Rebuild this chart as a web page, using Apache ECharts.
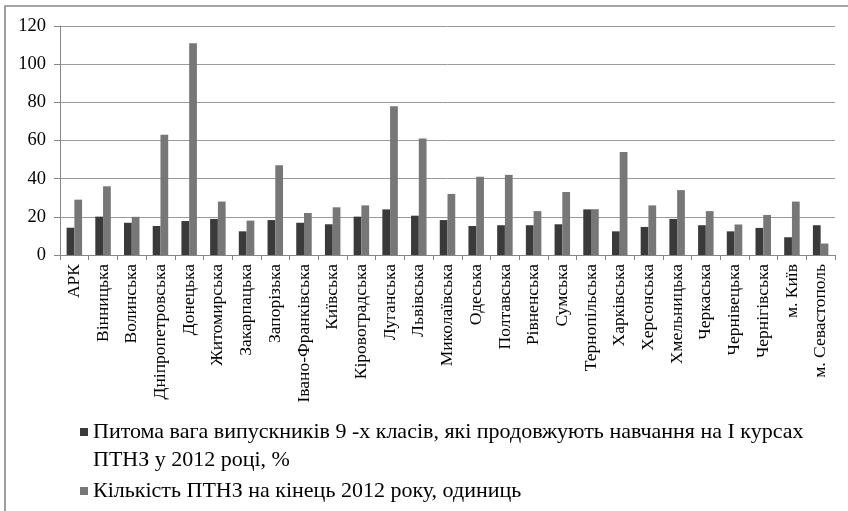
<!DOCTYPE html>
<html>
<head>
<meta charset="utf-8">
<script src="https://cdn.jsdelivr.net/npm/echarts@6/dist/echarts.min.js"></script>
<style>
  html, body { margin: 0; padding: 0; background: #fff; }
  #chart { width: 848px; height: 511px; }
</style>
</head>
<body>
<div id="chart"></div>
<script>
// Regions of Ukraine
const regions = ['АРК', 'Вінницька', 'Волинська', 'Дніпропетровська', 'Донецька', 'Житомирська',
  'Закарпацька', 'Запорізька', 'Івано-Франківська', 'Київська', 'Кіровоградська', 'Луганська',
  'Львівська', 'Миколаївська', 'Одеська', 'Полтавська', 'Рівненська', 'Сумська', 'Тернопільська',
  'Харківська', 'Херсонська', 'Хмельницька', 'Черкаська', 'Чернівецька', 'Чернігівська',
  'м. Київ', 'м. Севастополь'];

// Share of 9th-grade graduates continuing at vocational schools, %
const graduatesShare = [14.3, 20.1, 16.9, 15.2, 17.8, 18.9, 12.4, 18.3, 16.9, 16.1, 20.1, 23.9,
  20.6, 18.3, 15.2, 15.6, 15.6, 16.1, 23.9, 12.4, 14.7, 18.9, 15.6, 12.4, 14.2, 9.3, 15.6];

// Number of vocational schools at the end of 2012
const schoolCount = [29, 36, 20, 63, 111, 28, 18, 47, 22, 25, 26, 78, 61, 32, 41, 42, 23, 33,
  24, 54, 26, 34, 23, 16, 21, 28, 6];

const seriesNames = [
  'Питома вага випускників 9 -х класів, які продовжують навчання на І курсах ПТНЗ у 2012 році, %',
  'Кількість ПТНЗ на кінець 2012 року, одиниць'
];
// Legend text; the leading blank line keeps the marker level with the first text line
const legendText = [
  '\nПитома вага випускників 9 -х класів, які продовжують навчання на І курсах\nПТНЗ у 2012 році, %',
  'Кількість ПТНЗ на кінець 2012 року, одиниць'
];

const yTicks = { min: 0, max: 120, step: 20 };

const serif = '"Liberation Serif", "DejaVu Serif", serif';
const chart = echarts.init(document.getElementById('chart'), null, { renderer: 'canvas' });

chart.setOption({
  animation: false,
  backgroundColor: '#fff',
  grid: { left: 60, right: 13, top: 26, bottom: 256, containLabel: false },
  legend: {
    orient: 'vertical',
    left: 75,
    top: 385,
    itemWidth: 8,
    itemHeight: 8,
    itemGap: 3,
    icon: 'rect',
    selectedMode: false,
    data: seriesNames,
    formatter: name => legendText[seriesNames.indexOf(name)],
    textStyle: { fontFamily: serif, fontSize: 22, color: '#000', lineHeight: 28 }
  },
  xAxis: {
    type: 'category',
    data: regions,
    axisLine: { lineStyle: { color: '#868686', width: 1 } },
    axisTick: { show: true, length: 5, lineStyle: { color: '#868686' } },
    axisLabel: {
      interval: 0, rotate: 90, margin: 9,
      fontFamily: serif, fontSize: 17.5, color: '#000'
    }
  },
  yAxis: {
    type: 'value',
    min: yTicks.min, max: yTicks.max, interval: yTicks.step,
    axisLine: { show: true, lineStyle: { color: '#868686', width: 1 } },
    axisTick: { show: true, length: 6, lineStyle: { color: '#868686' } },
    axisLabel: { fontFamily: serif, fontSize: 18.5, color: '#000', margin: 14 },
    splitLine: { lineStyle: { color: '#9a9a9a', width: 1 } }
  },
  series: [
    {
      name: seriesNames[0], type: 'bar', data: graduatesShare,
      barGap: '0%', barCategoryGap: '46%',
      itemStyle: { color: '#3a3a3a' }
    },
    {
      name: seriesNames[1], type: 'bar', data: schoolCount,
      barGap: '0%', barCategoryGap: '46%',
      itemStyle: { color: '#777777' }
    }
  ],
  graphic: [{
    type: 'polyline',
    shape: { points: [[5, 520], [5, 6], [860, 6]] },
    style: { stroke: '#888', lineWidth: 1.6, fill: null },
    silent: true
  }]
});
</script>
</body>
</html>
